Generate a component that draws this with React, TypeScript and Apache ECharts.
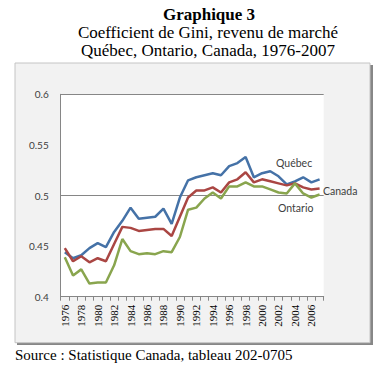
import React, { useEffect, useRef } from "react";
import * as echarts from "echarts";

const years: string[] = [
  "1976","1977","1978","1979","1980","1981","1982","1983","1984","1985",
  "1986","1987","1988","1989","1990","1991","1992","1993","1994","1995",
  "1996","1997","1998","1999","2000","2001","2002","2003","2004","2005",
  "2006","2007",
];

const quebec: number[] = [
  0.444, 0.438, 0.441, 0.448, 0.453, 0.449, 0.464, 0.475, 0.488, 0.477,
  0.478, 0.479, 0.487, 0.472, 0.498, 0.515, 0.518, 0.520, 0.522, 0.520,
  0.529, 0.532, 0.538, 0.518, 0.522, 0.524, 0.519, 0.511, 0.514, 0.518,
  0.513, 0.516,
];

const canada: number[] = [
  0.448, 0.435, 0.440, 0.434, 0.438, 0.435, 0.452, 0.469, 0.468, 0.465,
  0.466, 0.467, 0.467, 0.460, 0.479, 0.498, 0.505, 0.505, 0.508, 0.503,
  0.513, 0.516, 0.523, 0.513, 0.516, 0.514, 0.512, 0.510, 0.512, 0.508,
  0.506, 0.507,
];

const ontario: number[] = [
  0.439, 0.421, 0.427, 0.413, 0.414, 0.414, 0.431, 0.457, 0.445, 0.442,
  0.443, 0.442, 0.445, 0.444, 0.459, 0.486, 0.488, 0.497, 0.503, 0.497,
  0.509, 0.509, 0.513, 0.509, 0.509, 0.506, 0.503, 0.502, 0.512, 0.502,
  0.498, 0.501,
];

const titleLines: string[] = [
  "Graphique 3",
  "Coefficient de Gini, revenu de marché",
  "Québec, Ontario, Canada, 1976-2007",
];
const sourceText = "Source : Statistique Canada, tableau 202-0705";

const SERIF = "'Liberation Serif', 'Times New Roman', serif";
const SANS = "Lato, 'Liberation Sans', sans-serif";

export default function App() {
  const ref = useRef<HTMLDivElement>(null);

  useEffect(() => {
    if (!ref.current) return;
    const chart = echarts.init(ref.current, undefined, { renderer: "svg" });

    const lineSeries = (name: string, data: number[], color: string) => ({
      name,
      type: "line",
      data,
      showSymbol: false,
      symbol: "none",
      lineStyle: { color, width: 2.5 },
      itemStyle: { color },
      z: 3,
    });

    const titleStyle = (bold: boolean) => ({
      fontFamily: SERIF,
      fontSize: 17,
      lineHeight: 17,
      fontWeight: bold ? "bold" : "normal",
      color: "#000",
    });

    chart.setOption({
      animation: false,
      backgroundColor: "#ffffff",
      title: [
        { text: titleLines[0], left: 209, top: 6, textAlign: "center", textStyle: titleStyle(true), padding: 0 },
        { text: titleLines[1], left: 208, top: 24, textAlign: "center", textStyle: titleStyle(false), padding: 0 },
        { text: titleLines[2], left: 208, top: 42, textAlign: "center", textStyle: titleStyle(false), padding: 0 },
        {
          text: sourceText,
          left: 15,
          top: 347,
          textStyle: { fontFamily: SERIF, fontSize: 15, lineHeight: 15, fontWeight: "normal", color: "#000" },
          padding: 0,
        },
      ],
      graphic: [
        { type: "rect", z: -10, shape: { x: 17, y: 65, width: 356, height: 280 }, style: { fill: "#878787" } },
        { type: "rect", z: -9, shape: { x: 15, y: 63, width: 355, height: 279.7 }, style: { fill: "#f2f2f2", stroke: "#c4c4c4", lineWidth: 1 } },
        { type: "text", z: 10, x: 276, y: 162.7, style: { text: "Québec", fill: "#404040", fontFamily: SANS, fontSize: 10.5, verticalAlign: "middle" } },
        { type: "text", z: 10, x: 323, y: 190.7, style: { text: "Canada", fill: "#404040", fontFamily: SANS, fontSize: 10.5, verticalAlign: "middle" } },
        { type: "text", z: 10, x: 278, y: 208.3, style: { text: "Ontario", fill: "#404040", fontFamily: SANS, fontSize: 10.5, verticalAlign: "middle" } },
      ],
      grid: {
        left: 60.7,
        top: 94.3,
        width: 263,
        bottom: 75.3,
        show: true,
        backgroundColor: "#ffffff",
        borderWidth: 0,
      },
      xAxis: {
        type: "category",
        data: years,
        boundaryGap: true,
        axisLine: { show: true, lineStyle: { color: "#868686", width: 1 } },
        axisTick: { show: true, interval: 0, length: 4, lineStyle: { color: "#868686" } },
        axisLabel: {
          interval: 1,
          rotate: 90,
          margin: 8,
          fontFamily: SERIF,
          fontSize: 11,
          color: "#000",
        },
        splitLine: { show: false },
      },
      yAxis: {
        type: "value",
        min: 0.4,
        max: 0.6,
        interval: 0.05,
        axisLine: { show: true, lineStyle: { color: "#868686", width: 1 } },
        axisTick: { show: false },
        axisLabel: {
          margin: 12,
          fontFamily: SANS,
          fontSize: 10,
          color: "#404040",
          formatter: (v: number) => String(+v.toFixed(2)),
        },
        splitLine: { show: true, lineStyle: { color: ["#868686", "transparent"], width: 1 } },
      },
      series: [
        lineSeries("Québec", quebec, "#4572A7"),
        lineSeries("Canada", canada, "#AA4643"),
        lineSeries("Ontario", ontario, "#89A54E"),
      ],
    });

    return () => chart.dispose();
  }, []);

  return (
    <div
      ref={ref}
      style={{ position: "fixed", left: 0, top: 0, width: 390, height: 372 }}
    />
  );
}
